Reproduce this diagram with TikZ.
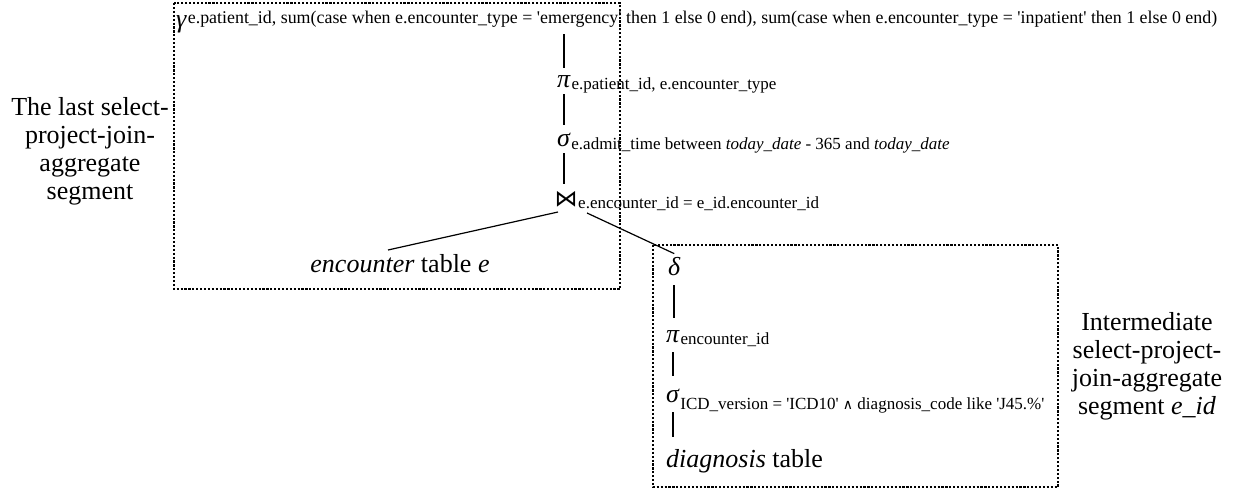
\documentclass[tikz,border=0pt]{standalone}
\usepackage{fontspec}
\setmainfont{Liberation Serif}
\newfontfamily\symfont{DejaVu Sans}
\newcommand{\sq}{\textquotesingle}

\begin{document}
\begin{tikzpicture}[
        x=1pt, y=-1pt,
        segbox/.style={draw, line width=2.4pt, dash pattern=on 2.2pt off 1.7pt},
        greek/.style={inner sep=0pt, anchor=base west, font=\fontsize{26}{26}\selectfont\itshape},
        sub/.style={inner sep=0pt, anchor=base west, font=\fontsize{17}{17}\selectfont},
        big/.style={inner sep=0pt, font=\fontsize{26}{28}\selectfont},
        bar/.style={line width=2pt, shorten <=7pt, shorten >=7pt},
        barlow/.style={line width=2pt, shorten <=10pt, shorten >=12pt},
        edge/.style={line width=1.2pt}
    ]
        \useasboundingbox (0,0) rectangle (1234,490);

        % Segment boxes
        \draw[segbox] (174,3) rectangle (620,289);
        \draw[segbox] (653,245) rectangle (1058,487);

        % Segment labels
        \node[big, align=center] (lastlbl) at (90,151) {The last select-\\project-join-\\aggregate\\segment};
        \node[big, align=center] (midlbl) at (1147,366) {Intermediate\\select-project-\\join-aggregate\\segment \textit{e\_id}};

        % Last segment
        \node[greek] (gam) at (176,27) {γ};
        \node[sub, font=\fontsize{17.9}{18}\selectfont] (gam-sub) at ([xshift=1pt, yshift=4pt]gam.base east) {e.patient\_id, sum(case when e.encounter\_type = \sq emergency\sq{} then 1 else 0 end), sum(case when e.encounter\_type = \sq inpatient\sq{} then 1 else 0 end)};
        \node[greek] (proj) at (557,87) {π};
        \node[sub] (proj-sub) at ([xshift=1pt, yshift=-2pt]proj.base east) {e.patient\_id, e.encounter\_type};
        \node[greek] (sel) at (557,146) {σ};
        \node[sub] (sel-sub) at ([xshift=1pt, yshift=-3pt]sel.base east) {e.admit\_time between \textit{today\_date} - 365 and \textit{today\_date}};
        \node[inner sep=0pt, font=\fontsize{23}{23}\selectfont\symfont] (join) at (566,199) {⋈};
        \node[sub] (join-sub) at (578,208) {e.encounter\_id = e\_id.encounter\_id};
        \node[big, inner sep=0pt] (enc) at (400,264) {\textit{encounter} table \textit{e}};

        \draw[bar] (gam-sub.south -| proj) -- (proj.north);
        \draw[bar] (proj.south) -- (proj.south |- sel.north);
        \draw[bar] (sel.south) -- (sel.south |- join.north);
        \draw[edge] ([shift={(-8,13)}]join.center) -- ([shift={(-12,-14)}]enc.center);

        % Intermediate segment
        \node[greek] (dist) at (668,275) {δ};
        \node[greek] (proj2) at (666,342) {π};
        \node[sub] (proj2-sub) at ([xshift=1pt, yshift=-2pt]proj2.base east) {encounter\_id};
        \node[greek] (sel2) at (666,402) {σ};
        \node[sub] (sel2-sub) at ([xshift=1pt, yshift=-7pt]sel2.base east) {ICD\_version = \sq ICD10\sq{} {\symfont\fontsize{14}{14}\selectfont ∧} diagnosis\_code like \sq J45.\%\sq};
        \node[big, anchor=base west] (diag) at (666,467) {\textit{diagnosis} table};

        \draw[edge] ([shift={(21,14)}]join.center) -- ([yshift=3pt]dist.north);
        \draw[barlow] (dist.south) -- (dist.south |- proj2.north);
        \draw[barlow] (proj2.south) -- (proj2.south |- sel2.north);
        \draw[barlow] (sel2.south) -- (sel2.south |- diag.north);
    \end{tikzpicture}
\end{document}
